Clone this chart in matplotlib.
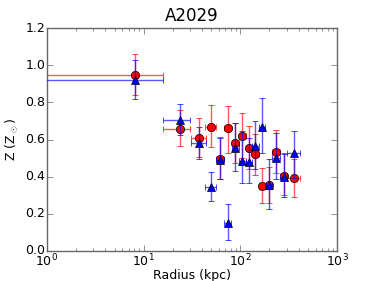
import numpy as np
import matplotlib
matplotlib.use('Agg')
import matplotlib.pyplot as plt

# radial bins (kpc)
radius = [8.1, 23.5, 37, 49.6, 62, 74, 88.5, 104, 122, 143, 167, 198, 233, 280, 361]
r_lo = [0.1, 16, 31, 43.5, 56, 68, 81, 96, 113, 133, 155, 183, 214, 258, 305]
r_hi = [16, 30, 44, 56, 68, 80, 96, 113, 132, 154, 180, 214, 255, 305, 410]

# red series (circles)
z_red = [0.947, 0.658, 0.608, 0.670, 0.493, 0.660, 0.579, 0.618, 0.552, 0.520, 0.349, 0.356, 0.533, 0.404, 0.391]
z_red_up = [1.063, 0.758, 0.715, 0.787, 0.613, 0.780, 0.690, 0.741, 0.672, 0.630, 0.449, 0.450, 0.650, 0.525, 0.493]
z_red_dn = [0.840, 0.565, 0.504, 0.561, 0.386, 0.530, 0.476, 0.502, 0.440, 0.410, 0.256, 0.260, 0.420, 0.300, 0.293]

# blue series (triangles)
z_blue = [0.918, 0.704, 0.579, 0.342, 0.490, 0.150, 0.556, 0.484, 0.479, 0.565, 0.666, 0.354, 0.500, 0.400, 0.525]
z_blue_up = [1.028, 0.790, 0.670, 0.427, 0.610, 0.254, 0.690, 0.645, 0.610, 0.700, 0.824, 0.493, 0.636, 0.520, 0.645]
z_blue_dn = [0.819, 0.627, 0.497, 0.268, 0.386, 0.057, 0.430, 0.365, 0.368, 0.440, 0.530, 0.225, 0.386, 0.290, 0.393]

plt.style.use('classic')
plt.rcParams['font.family'] = ['DejaVu Sans']
plt.rcParams['axes.edgecolor'] = '0.4'
plt.rcParams['xtick.color'] = '0.4'
plt.rcParams['ytick.color'] = '0.4'

r = np.array(radius)
xerr = [r - np.array(r_lo), np.array(r_hi) - r]

def yerr(z, up, dn):
    z = np.array(z)
    return [z - np.array(dn), np.array(up) - z]

fig = plt.figure(figsize=(3.75, 2.81), dpi=100, facecolor='white')
ax = fig.add_axes([0.125, 0.107, 0.774, 0.793])

ax.errorbar(r, z_red, xerr=xerr, yerr=yerr(z_red, z_red_up, z_red_dn),
            fmt='o', color='r', ecolor='r', mec='k', mew=0.5, ms=6,
            elinewidth=1, capsize=2, zorder=2)
ax.errorbar(r, z_blue, xerr=xerr, yerr=yerr(z_blue, z_blue_up, z_blue_dn),
            fmt='^', color='b', ecolor='b', mec='k', mew=0.5, ms=6,
            elinewidth=1, capsize=2, zorder=3)
for c in ax.collections:
    c.set_alpha(0.65)

ax.set_xscale('log')
ax.set_xlim(1, 1000)
ax.set_ylim(0, 1.2)
ax.set_yticks([0.0, 0.2, 0.4, 0.6, 0.8, 1.0, 1.2])
ax.tick_params(labelsize=9, pad=1, labelcolor='k')
ax.set_xlabel('Radius (kpc)', fontsize=9, labelpad=0)
ax.set_ylabel(r'Z (Z$_\odot$)', fontsize=9, labelpad=4)
ax.set_title('A2029', fontsize=12)

fig.savefig('out.png', dpi=100, facecolor='white')
